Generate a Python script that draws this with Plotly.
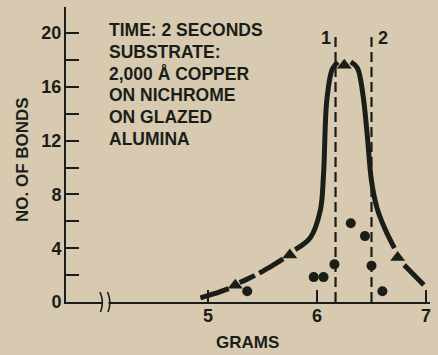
import plotly.graph_objects as go

# ---- data -------------------------------------------------------------
triangle_x = [5.25, 5.75, 6.25, 6.74]
triangle_y = [1.25, 3.5, 17.6, 3.3]

circle_x = [5.36, 5.97, 6.06, 6.16, 6.31, 6.44, 6.50, 6.60]
circle_y = [0.8, 1.85, 1.85, 2.8, 5.85, 4.9, 2.7, 0.8]

# hand-drawn trend curve, broken into strokes
curve_pieces = [
    ([4.93, 5.05, 5.19], [0.30, 0.60, 1.00]),
    ([5.29, 5.36, 5.43], [1.45, 1.70, 1.98]),
    ([5.47, 5.58, 5.69], [2.15, 2.65, 3.20]),
    ([5.80, 5.94, 6.03, 6.06, 6.09, 6.14, 6.19], [3.90, 4.80, 6.80, 9.50, 15.0, 17.3, 17.85]),
    ([6.31, 6.37, 6.42, 6.46, 6.50, 6.55, 6.62, 6.71], [17.85, 17.4, 15.5, 12.5, 9.0, 7.0, 5.5, 4.0]),
    ([6.80, 6.89, 6.98], [2.75, 2.0, 1.26]),
]

ref_line_x = [6.17, 6.50]
ref_line_labels = ["1", "2"]
ref_line_top = 20

x_tick_vals = [5, 6, 7]
y_tick_vals = list(range(0, 22, 2))
y_tick_text = [str(v) if v % 4 == 0 else "" for v in y_tick_vals]

note_lines = ["TIME: 2 SECONDS", "SUBSTRATE:", "2,000 Å COPPER",
              "ON NICHROME", "ON GLAZED", "ALUMINA"]

# ---- styling ------------------------------------------------------------
W, H = 438, 355
ML, MR, MT, MB = 66, 8, 7, 53
PAPER = "#d7cab0"
INK = "#1b1e17"
FONT = "Liberation Sans"

plot_w = W - ML - MR
plot_h = H - MT - MB


def px(x):
    return (x - ML) / plot_w


def py(y):
    return (H - MB - y) / plot_h


fig = go.Figure()

# curve strokes
cx, cy = [], []
for xs, ys in curve_pieces:
    cx += xs + [None]
    cy += ys + [None]
fig.add_trace(go.Scatter(x=cx, y=cy, mode="lines", connectgaps=False,
                         line=dict(color=INK, width=5, shape="spline", smoothing=1.0),
                         hoverinfo="skip", showlegend=False))

# dashed reference lines
for xv in ref_line_x:
    fig.add_trace(go.Scatter(x=[xv, xv], y=[0, ref_line_top], mode="lines",
                             line=dict(color=INK, width=2.2, dash="10px,5px"),
                             hoverinfo="skip", showlegend=False))

fig.add_trace(go.Scatter(x=triangle_x, y=triangle_y, mode="markers",
                         marker=dict(symbol="triangle-up", size=13, color=INK),
                         showlegend=False, cliponaxis=False))
fig.add_trace(go.Scatter(x=circle_x, y=circle_y, mode="markers",
                         marker=dict(symbol="circle", size=10, color=INK),
                         showlegend=False, cliponaxis=False))

annotations = []
# note block
for i, line in enumerate(note_lines):
    annotations.append(dict(x=px(107), y=py(30 + i * 21.8), xref="paper", yref="paper",
                             text=f"<b>{line}</b>", showarrow=False,
                             xanchor="left", yanchor="middle",
                             font=dict(family=FONT, size=17.5, color=INK)))
# reference-line labels
for xv, lab, dx in zip(ref_line_x, ref_line_labels, [-10, 11]):
    annotations.append(dict(x=xv, y=py(38), xref="x", yref="paper", text=f"<b>{lab}</b>",
                            showarrow=False, xshift=dx, xanchor="center", yanchor="middle",
                            font=dict(family=FONT, size=18, color=INK)))
# axis titles
annotations.append(dict(x=px(22), y=py(160), xref="paper", yref="paper",
                        xanchor="center", yanchor="middle",
                        text="<b>NO. OF BONDS</b>", textangle=-90, showarrow=False,
                        font=dict(family=FONT, size=17, color=INK)))
annotations.append(dict(x=px(247), y=py(342), xref="paper", yref="paper",
                        xanchor="center", yanchor="middle",
                        text="<b>GRAMS</b>", showarrow=False,
                        font=dict(family=FONT, size=17, color=INK)))

shapes = [
    # gap in the x axis line
    dict(type="rect", xref="paper", yref="paper", x0=px(102.5), x1=px(108.5),
         y0=py(305), y1=py(299), fillcolor=PAPER, line=dict(width=0), layer="above"),
    # break marks
    dict(type="path", xref="paper", yref="paper",
         path=f"M {px(100)} {py(292)} Q {px(104.5)} {py(302)} {px(100.5)} {py(312)}",
         line=dict(color=INK, width=1.6), layer="above"),
    dict(type="path", xref="paper", yref="paper",
         path=f"M {px(107.5)} {py(292)} Q {px(112)} {py(302)} {px(108)} {py(312)}",
         line=dict(color=INK, width=1.6), layer="above"),
]

tick_font = dict(family=FONT, size=18, color=INK, weight="bold")

fig.update_layout(
    width=W, height=H,
    margin=dict(l=ML, r=MR, t=MT, b=MB),
    paper_bgcolor=PAPER, plot_bgcolor=PAPER,
    annotations=annotations, shapes=shapes,
    xaxis=dict(range=[5 - (208 - ML) / 109, 7 + (W - MR - 426) / 109],
               tickvals=x_tick_vals, ticks="inside", ticklen=12, tickwidth=1.5,
               tickcolor=INK, showline=True, linewidth=2, linecolor=INK,
               showgrid=False, zeroline=False, ticklabelstandoff=-4,
               tickfont=tick_font),
    yaxis=dict(range=[0, (H - MB - MT) / 13.45],
               tickvals=y_tick_vals, ticktext=y_tick_text, ticks="inside",
               ticklen=13, tickwidth=1.5, tickcolor=INK, showline=True,
               linewidth=2, linecolor=INK, showgrid=False, zeroline=False,
               ticklabelstandoff=-1,
               tickfont=tick_font),
)

fig.write_html("out.html")
